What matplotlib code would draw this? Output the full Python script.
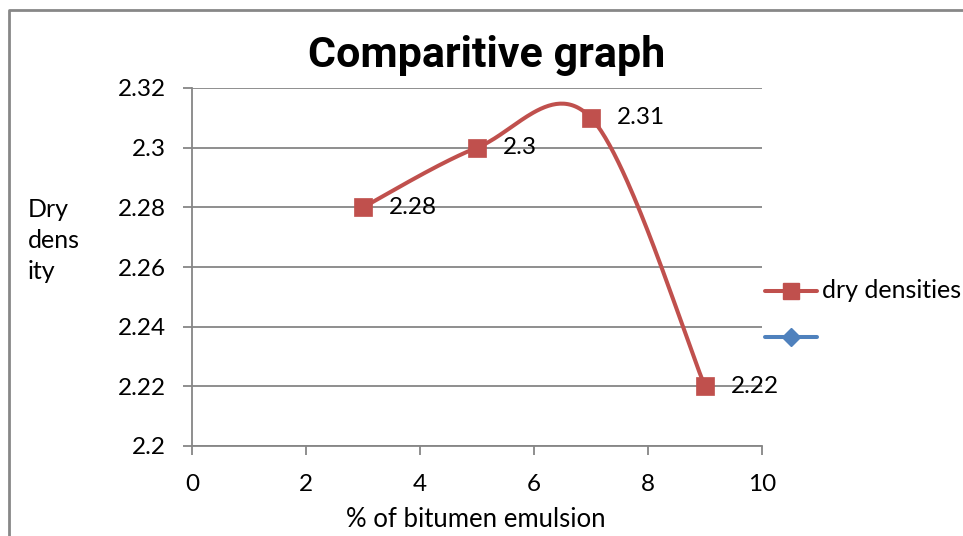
import numpy as np
import matplotlib
matplotlib.use("Agg")
import matplotlib.pyplot as plt
from matplotlib.lines import Line2D

# data
pct_emulsion = [3, 5, 7, 9]
dry_density = [2.28, 2.30, 2.31, 2.22]
series_name = "dry densities"
title = "Comparitive graph"
x_label = "% of bitumen emulsion"
y_label = "Dry\ndens\nity"
x_ticks = [0, 2, 4, 6, 8, 10]
y_ticks = [2.2, 2.22, 2.24, 2.26, 2.28, 2.3, 2.32]
y_tick_labels = ["2.2", "2.22", "2.24", "2.26", "2.28", "2.3", "2.32"]

plt.rcParams['font.family'] = ['Lato', 'DejaVu Sans']
FS = 17.5

W, H = 963, 536
fig = plt.figure(figsize=(W / 100, H / 100), dpi=100)
fig.patch.set_facecolor('white')

def fx(px):
    return px / W

def fy(py):
    return 1 - py / H

ax = fig.add_axes([fx(192), fy(446), fx(762) - fx(192), fy(88) - fy(446)])

red = '#C0504D'
blue = '#4F81BD'
grid = '#868686'

# smoothed line (Excel-style cardinal bezier between the data points)
def smooth(xs, ys, n=60):
    P = np.column_stack([xs, ys]).astype(float)
    m = len(P)
    out = []
    for i in range(m - 1):
        p0 = P[i - 1] if i > 0 else P[i]
        p1 = P[i]
        p2 = P[i + 1]
        p3 = P[i + 2] if i + 2 < m else P[i + 1]
        c1 = p1 + (p2 - p0) / 6
        c2 = p2 - (p3 - p1) / 6
        t = np.linspace(0, 1, n)[:, None]
        seg = ((1 - t) ** 3) * p1 + 3 * ((1 - t) ** 2) * t * c1 + 3 * (1 - t) * t ** 2 * c2 + t ** 3 * p2
        out.append(seg if i == 0 else seg[1:])
    s = np.vstack(out)
    return s[:, 0], s[:, 1]

sx, sy = smooth(pct_emulsion, dry_density)
ax.plot(sx, sy, color=red, lw=2.9, solid_capstyle='round', zorder=3)
ax.plot(pct_emulsion, dry_density, ls='none', marker='s', ms=13.5,
        mfc=red, mec=red, mew=0.5, zorder=4)

for x, y in zip(pct_emulsion, dry_density):
    ax.annotate(f"{y:g}", (x, y), xytext=(18.5, 0), textcoords='offset points',
                va='center', ha='left', fontsize=FS, color='black')

ax.set_xlim(0, 10)
ax.set_ylim(2.2, 2.32)
ax.set_xticks(x_ticks)
ax.set_yticks(y_ticks)
ax.set_yticklabels(y_tick_labels)
ax.yaxis.grid(True, color=grid, lw=1.3)
ax.set_axisbelow(True)
for s in ['top', 'right']:
    ax.spines[s].set_visible(False)
for s in ['left', 'bottom']:
    ax.spines[s].set_color(grid)
    ax.spines[s].set_linewidth(1.3)
ax.tick_params(axis='both', colors=grid, length=6.5, width=1.3, labelcolor='black', labelsize=FS)
ax.tick_params(axis='y', pad=12)
ax.tick_params(axis='x', pad=14)

fig.text(fx(476), fy(527), x_label, ha='center', va='baseline', fontsize=FS + 1)
fig.text(fx(28), fy(279), y_label, ha='left', va='baseline', fontsize=FS + 0.5, linespacing=1.42)
fig.text(fx(487), fy(67), title, ha='center', va='baseline', fontsize=31,
         fontweight='bold', family=['Roboto', 'DejaVu Sans'])

# legend
fig.add_artist(Line2D([fx(765), fx(817)], [fy(291), fy(291)], color=red, lw=2.9,
                      solid_capstyle='round', transform=fig.transFigure))
fig.add_artist(Line2D([fx(791)], [fy(291)], color=red, marker='s', ms=12,
                      mfc=red, mec=red, ls='none', transform=fig.transFigure))
fig.text(fx(822), fy(291), series_name, ha='left', va='center', fontsize=FS + 0.5)
fig.add_artist(Line2D([fx(765), fx(817)], [fy(337), fy(337)], color=blue, lw=2.9,
                      solid_capstyle='round', transform=fig.transFigure))
fig.add_artist(Line2D([fx(791)], [fy(337)], color=blue, marker='D', ms=9,
                      mfc=blue, mec=blue, ls='none', transform=fig.transFigure))

# chart border
fig.add_artist(Line2D([fx(8.5), fx(8.5), fx(962)], [0, fy(9.5), fy(9.5)], color='#878787',
                      lw=2, transform=fig.transFigure))

fig.savefig('out.png', dpi=100)
